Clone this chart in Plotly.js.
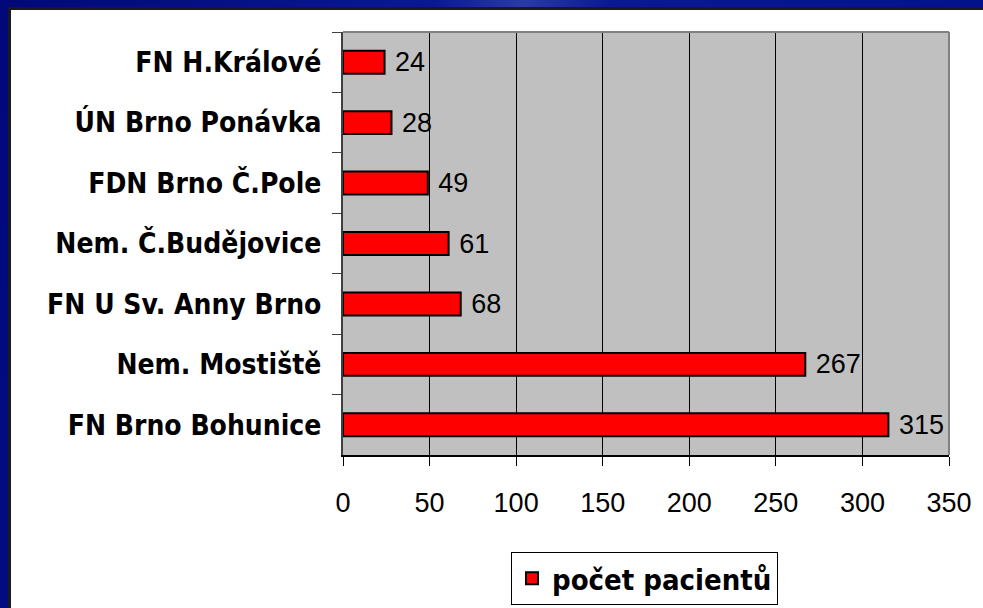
<!DOCTYPE html>
<html>
<head>
<meta charset="utf-8">
<script src="https://cdn.plot.ly/plotly-3.0.1.min.js"></script>
<style>
  html, body { margin: 0; padding: 0; background: #000a80; }
  #bg { position: absolute; left: 0; top: 0; width: 983px; height: 608px; background: linear-gradient(100deg, #00087a 0%, #0a1896 40%, #2a3aa8 48%, #0a1896 56%, #00108c 100%); }
  #white { position: absolute; left: 8px; top: 7px; width: 975px; height: 601px; box-sizing: border-box; border-left: 3px solid #1a1a1a; border-top: 3px solid #1a1a1a; background: #FFFFFF; }
  #chart { position: absolute; left: 11px; top: 10px; width: 972px; height: 598px; }
</style>
</head>
<body>
<div id="bg"></div>
<div id="white"></div>
<div id="chart"></div>
<script>
const categories = ["FN H.Králové", "ÚN Brno Ponávka", "FDN Brno Č.Pole", "Nem. Č.Budějovice", "FN U Sv. Anny Brno", "Nem. Mostiště", "FN Brno Bohunice"];
const patients = [24, 28, 49, 61, 68, 267, 315];
const seriesName = "počet pacientů";
const xTicks = [0, 50, 100, 150, 200, 250, 300, 350];

const trace = {
  type: "bar",
  orientation: "h",
  y: categories,
  x: patients,
  name: seriesName,
  width: 0.38,
  marker: { color: "#FF0000", line: { color: "#000000", width: 2 } },
  text: patients.map(v => " " + v),
  textposition: "outside",
  constraintext: "none",
  cliponaxis: false,
  textfont: { family: "Liberation Sans, Arial, sans-serif", size: 27, color: "#000000" },
  hoverinfo: "x+y"
};

const layout = {
  width: 972,
  height: 598,
  margin: { l: 332, r: 34, t: 22, b: 153, autoexpand: false },
  paper_bgcolor: "rgba(0,0,0,0)",
  plot_bgcolor: "#C0C0C0",
  showlegend: true,
  xaxis: {
    range: [0, 350],
    tickvals: xTicks,
    ticktext: xTicks.map(String),
    showgrid: true,
    gridcolor: "#000000",
    gridwidth: 1,
    zeroline: false,
    showline: true,
    linecolor: "#000000",
    linewidth: 2,
    ticks: "outside",
    ticklen: 9,
    tickwidth: 1,
    tickcolor: "#000000",
    ticklabelstandoff: 14,
    tickfont: { family: "Liberation Sans, Arial, sans-serif", size: 27, color: "#000000" },
    fixedrange: true
  },
  yaxis: {
    type: "category",
    categoryorder: "array",
    categoryarray: categories,
    autorange: "reversed",
    showgrid: false,
    zeroline: false,
    showline: true,
    linecolor: "#404040",
    linewidth: 2,
    ticks: "outside",
    tickson: "boundaries",
    ticklen: 9,
    tickwidth: 1,
    tickcolor: "#404040",
    ticklabelstandoff: 14,
    tickfont: { family: "DejaVu Sans Condensed, DejaVu Sans, sans-serif", size: 28, color: "#000000", weight: "bold" },
    fixedrange: true
  },
  shapes: [
    { type: "line", xref: "paper", yref: "paper", x0: 0, x1: 1, y0: 1, y1: 1, line: { color: "#808080", width: 2 } },
    { type: "line", xref: "paper", yref: "paper", x0: 1, x1: 1, y0: 0, y1: 1, line: { color: "#808080", width: 2 } }
  ],
  legend: {
    orientation: "h",
    x: 0.4975,
    xanchor: "center",
    y: -0.229,
    yanchor: "top",
    bgcolor: "#FFFFFF",
    bordercolor: "#000000",
    borderwidth: 1,
    font: { family: "DejaVu Sans Condensed, DejaVu Sans, sans-serif", size: 29, color: "#000000", weight: "bold" }
  }
};

Plotly.newPlot("chart", [trace], layout, { displayModeBar: false, staticPlot: true });
</script>
</body>
</html>
